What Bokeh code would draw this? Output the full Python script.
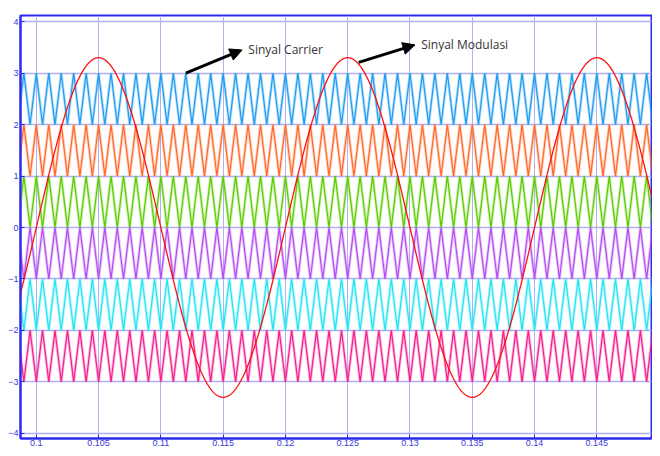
import numpy as np
from bokeh.plotting import figure
from bokeh.models import Arrow, NormalHead, Label, FixedTicker
from bokeh.embed import file_html
from bokeh.resources import INLINE

# ---- data ----
carrier_freq_hz = 1000.0          # one triangle per millisecond
mod_freq_hz = 50.0                # modulating sine, period 0.02 s
mod_amplitude = 3.3               # peak of red sine
band_bottoms = [2, 1, 0, -1, -2, -3]
band_colors = ["#1f9cf0", "#ff6a2a", "#5ccc00", "#b44cf2", "#22e4f4", "#f5208e"]
t_start, t_end = 0.098, 0.150

x_ticks = [0.1, 0.105, 0.11, 0.115, 0.12, 0.125, 0.13, 0.135, 0.14, 0.145]
x_tick_labels = ["0.1", "0.105", "0.11", "0.115", "0.12", "0.125", "0.13", "0.135", "0.14", "0.145"]
y_ticks = [-4, -3, -2, -1, 0, 1, 2, 3, 4]

annotations = [
    # (tail x, tail y, head x, head y, label)
    (0.1120, 3.00, 0.11652, 3.45, "Sinyal Carrier"),
    (0.12588, 3.21, 0.13040, 3.55, "Sinyal Modulasi"),
]

# ---- build series ----
half = 0.5 / carrier_freq_hz
vt = np.arange(t_start, t_end + half, half)
phase_top = (np.round(vt / half).astype(int) % 2 == 0)   # integer ms vertices

t_sine = np.linspace(t_start, t_end, 2000)
y_sine = mod_amplitude * np.sin(2 * np.pi * mod_freq_hz * t_sine)

blue_axis = "#2b2bf0"
grid_col = "#b0b0f2"

p = figure(width=652, height=448, output_backend="svg", toolbar_location=None,
           x_range=(0.09873, 0.14939), y_range=(-4.1, 4.12),
           min_border_left=20, min_border_right=1, min_border_top=15, min_border_bottom=0)

p.outline_line_color = blue_axis
p.outline_line_width = 2
p.background_fill_color = "white"
p.border_fill_color = "white"

for ax in (p.xaxis[0], p.yaxis[0]):
    ax.axis_line_color = blue_axis
    ax.axis_line_width = 2
    ax.major_tick_in = 4
    ax.major_tick_out = 0
    ax.major_tick_line_color = blue_axis
    ax.minor_tick_line_color = None
    ax.major_label_text_color = "#3a3ad8"
    ax.major_label_text_font = "Liberation Sans"
    ax.major_label_text_font_size = "9px"
    ax.major_label_standoff = 2

p.xaxis.major_label_standoff = 1
p.xaxis.ticker = FixedTicker(ticks=x_ticks)
p.xaxis.major_label_overrides = {t: l for t, l in zip(x_ticks, x_tick_labels)}
p.yaxis.ticker = FixedTicker(ticks=y_ticks)

p.xgrid.grid_line_color = grid_col
p.ygrid.grid_line_color = grid_col
p.xgrid.grid_line_width = 1
p.ygrid.grid_line_width = 1.5

for bottom, col in zip(band_bottoms, band_colors):
    if bottom >= 0:
        vy = np.where(phase_top, bottom + 1, bottom)
    else:
        vy = np.where(phase_top, bottom, bottom + 1)
    p.line(vt, vy, line_color=col, line_width=3, line_alpha=0.3)
    p.line(vt, vy, line_color=col, line_width=1.2)

p.line(t_sine, y_sine, line_color="#ff1010", line_width=1.3)

for x0, y0, x1, y1, txt in annotations:
    p.add_layout(Arrow(end=NormalHead(size=12, fill_color="black", line_color="black"),
                       x_start=x0, y_start=y0, x_end=x1, y_end=y1,
                       line_color="black", line_width=3))
    p.add_layout(Label(x=x1 + 0.0005, y=y1, text=txt, text_font="Open Sans",
                       text_font_size="12px", text_color="#333333",
                       text_baseline="middle"))

open("out.html", "w").write(file_html(p, INLINE))
